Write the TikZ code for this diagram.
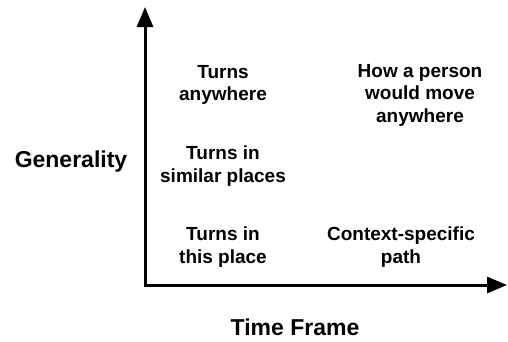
\documentclass[tikz,border=0pt]{standalone}
\usepackage{fontspec}
\setmainfont{Liberation Sans}
\usetikzlibrary{arrows.meta,positioning}

\begin{document}
\begin{tikzpicture}[x=1pt,y=-1pt,
  >={Triangle[length=20pt,width=16pt]},
  cell/.style={font=\fontsize{19}{22.5}\selectfont\bfseries, align=center, inner sep=0pt},
  axislab/.style={font=\fontsize{23}{27}\selectfont\bfseries, inner sep=0pt}]
\useasboundingbox (0,0) rectangle (508,341);
\coordinate (origin) at (145,285);
\coordinate (ytop) at (145,7);
\coordinate (xend) at (507,285);
\draw[line width=3pt,<->] (ytop) -- (origin) -- (xend);
\node[axislab] (gen) at (71,162) {Generality};
\node[axislab] (time) at (295,327) {Time Frame};
\node[cell] (anyturn) at (223,85) {Turns\\anywhere};
\node[cell] (anymove) at (420,95) {How a person\\would move\\anywhere};
\node[cell] (simturn) at (223,166) {Turns in\\similar places};
\node[cell] (hereturn) at (223,247) {Turns in\\this place};
\node[cell] (herepath) at (401,247) {Context-specific\\path};
\end{tikzpicture}
\end{document}
